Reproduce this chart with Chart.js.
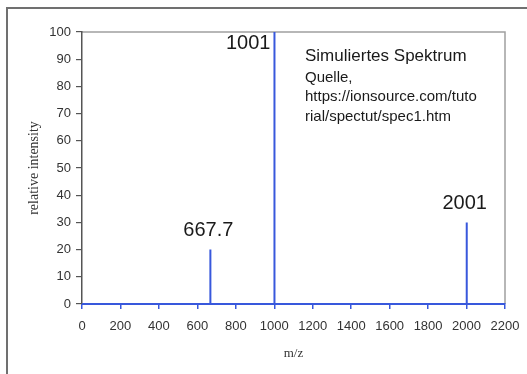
<!DOCTYPE html>
<html>
<head>
<meta charset="utf-8">
<script src="https://cdn.jsdelivr.net/npm/chart.js@4/dist/chart.umd.min.js"></script>
<style>
  html, body { margin: 0; padding: 0; background: #fff; }
  #wrap { width: 527px; height: 374px; }
</style>
</head>
<body>
<div id="wrap"><canvas id="spec"></canvas></div>
<script>
// peaks of the simulated spectrum
const peakMz = [667.7, 1001, 2001]
const peakIntensity = [20, 100, 30]
const peakLabels = ['667.7', '1001', '2001']
const xRange = [0, 2200]
const yRange = [0, 100]
const noteLines = ['Simuliertes Spektrum', 'Quelle,', 'https://ionsource.com/tuto', 'rial/spectut/spec1.htm']

const blue = '#3858dc'

// stick spectrum: baseline with a vertical line up at every peak
const points = [{ x: xRange[0], y: 0 }]
peakMz.forEach((mz, i) => {
    points.push({ x: mz, y: 0 }, { x: mz, y: peakIntensity[i] }, { x: mz, y: 0 })
})
points.push({ x: xRange[1], y: 0 })

const framePlugin = {
    id: 'frame',
    beforeDraw(chart) {
        const ctx = chart.ctx
        ctx.save()
        ctx.fillStyle = '#fff'
        ctx.fillRect(0, 0, chart.width, chart.height)
        ctx.strokeStyle = '#707070'
        ctx.lineWidth = 2
        ctx.beginPath()
        ctx.moveTo(7, chart.height + 2)
        ctx.lineTo(7, 8)
        ctx.lineTo(chart.width + 2, 8)
        ctx.stroke()
        // plot box top + right
        const a = chart.chartArea
        ctx.strokeStyle = '#a0a0a0'
        ctx.lineWidth = 1.5
        ctx.beginPath()
        ctx.moveTo(a.left, a.top)
        ctx.lineTo(a.right, a.top)
        ctx.lineTo(a.right, a.bottom)
        ctx.stroke()
        ctx.restore()
    },
    afterDraw(chart) {
        const ctx = chart.ctx
        const xs = chart.scales.x, ys = chart.scales.y
        ctx.save()
        ctx.fillStyle = '#1a1a1a'
        ctx.font = '20px "Liberation Sans", Arial, sans-serif'
        ctx.textBaseline = 'middle'
        peakMz.forEach((mz, i) => {
            const px = xs.getPixelForValue(mz)
            const py = ys.getPixelForValue(peakIntensity[i])
            if (peakIntensity[i] >= 100) {
                ctx.textAlign = 'right'
                ctx.fillText(peakLabels[i], px - 4, py + 11)
            } else {
                ctx.textAlign = 'center'
                ctx.fillText(peakLabels[i], px - 2, py - 19)
            }
        })
        ctx.textAlign = 'left'
        ctx.textBaseline = 'alphabetic'
        ctx.font = '17px "Liberation Sans", Arial, sans-serif'
        ctx.fillText(noteLines[0], 305, 61)
        ctx.font = '15px "Liberation Sans", Arial, sans-serif'
        ctx.fillText(noteLines[1], 305, 82)
        ctx.fillText(noteLines[2], 305, 101)
        ctx.fillText(noteLines[3], 305, 121)
        ctx.restore()
    }
}

new Chart(document.getElementById('spec'), {
    type: 'scatter',
    data: {
        datasets: [{
            data: points,
            showLine: true,
            borderColor: blue,
            borderWidth: 2,
            pointRadius: 0,
            clip: false
        }]
    },
    options: {
        responsive: true,
        maintainAspectRatio: false,
        animation: false,
        layout: { padding: { left: 0, top: 32, right: 22, bottom: 0 } },
        plugins: {
            legend: { display: false },
            tooltip: { enabled: false }
        },
        scales: {
            x: {
                type: 'linear',
                min: xRange[0],
                max: xRange[1],
                afterFit: s => {
                    s.height = 70
                    s.paddingLeft = 0
                    s.paddingRight = 0
                },
                ticks: {
                    stepSize: 200,
                    padding: 10,
                    color: '#333',
                    font: { family: '"Liberation Sans", Arial, sans-serif', size: 13 },
                    maxRotation: 0,
                    callback: v => String(v)
                },
                grid: { drawOnChartArea: false, tickLength: 5, color: blue, lineWidth: 1.5 },
                border: { color: blue, width: 2 },
                title: {
                    display: true,
                    text: 'm/z',
                    color: '#333',
                    font: { family: '"Liberation Serif", serif', size: 13 },
                    padding: { top: 0, bottom: 13 }
                }
            },
            y: {
                min: yRange[0],
                max: yRange[1],
                afterFit: s => {
                    s.width = 82
                    s.paddingTop = 0
                    s.paddingBottom = 0
                },
                ticks: {
                    stepSize: 10,
                    padding: 5,
                    color: '#333',
                    font: { family: '"Liberation Sans", Arial, sans-serif', size: 13 }
                },
                grid: { drawOnChartArea: false, tickLength: 6, color: '#555', lineWidth: 1.2 },
                border: { color: '#555', width: 1.5 },
                title: {
                    display: true,
                    text: 'relative intensity',
                    color: '#333',
                    font: { family: '"Liberation Serif", serif', size: 14 },
                    padding: { top: 26, bottom: 0 }
                }
            }
        }
    },
    plugins: [framePlugin]
})
</script>
</body>
</html>
